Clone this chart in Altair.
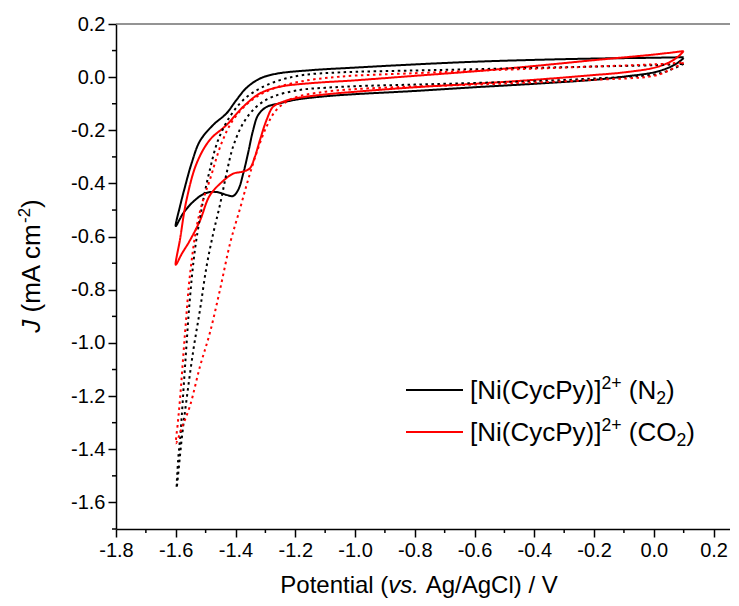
import altair as alt
import pandas as pd

# ---------------- data ----------------
series_names = ["N2", "CO2", "N2 dotted", "CO2 dotted"]
series_colors = ["#000000", "#ff0000", "#000000", "#ff0000"]

n2_E = [0.10, 0.08, 0.05, 0.00, -0.10, -0.20, -0.40, -0.60, -0.80, -1.00, -1.10, -1.20, -1.25,
        -1.296, -1.324, -1.341, -1.358, -1.374, -1.391, -1.408, -1.430, -1.464, -1.502, -1.541,
        -1.575, -1.600,
        -1.586, -1.569, -1.547, -1.519, -1.475, -1.430, -1.397, -1.363, -1.318, -1.263, -1.150,
        -1.000, -0.800, -0.600, -0.400, -0.200, 0.000, 0.100]
n2_J = [0.072, 0.054, 0.036, 0.018, 0.002, -0.010, -0.025, -0.038, -0.052, -0.064, -0.072, -0.085,
        -0.098, -0.112, -0.142, -0.199, -0.286, -0.362, -0.424, -0.447, -0.443, -0.432, -0.437,
        -0.468, -0.512, -0.560,
        -0.487, -0.412, -0.324, -0.240, -0.180, -0.136, -0.086, -0.040, -0.005, 0.013, 0.026,
        0.036, 0.048, 0.058, 0.065, 0.070, 0.073, 0.075]

co2_E = [0.10, 0.08, 0.05, 0.00, -0.10, -0.20, -0.40, -0.60, -0.80, -1.00, -1.10, -1.20, -1.24,
         -1.274, -1.296, -1.318, -1.335, -1.352, -1.374, -1.408, -1.441, -1.486, -1.519, -1.553,
         -1.580, -1.600,
         -1.586, -1.564, -1.530, -1.486, -1.430, -1.374, -1.318, -1.251, -1.151, -1.000, -0.800,
         -0.600, -0.400, -0.200, 0.000, 0.100]
co2_J = [0.098, 0.076, 0.055, 0.035, 0.018, 0.008, -0.010, -0.025, -0.038, -0.055, -0.065, -0.080,
         -0.092, -0.111, -0.161, -0.236, -0.299, -0.343, -0.355, -0.363, -0.390, -0.445, -0.540,
         -0.615, -0.665, -0.706,
         -0.612, -0.462, -0.324, -0.236, -0.180, -0.111, -0.061, -0.036, -0.023, -0.012, 0.005,
         0.022, 0.042, 0.064, 0.085, 0.098]

n2d_E = [0.10, 0.05, 0.00, -0.20, -0.40, -0.60, -0.80, -1.00, -1.10, -1.185, -1.274, -1.330,
         -1.374, -1.408, -1.430, -1.452, -1.475, -1.497, -1.519, -1.541, -1.564, -1.580, -1.597,
         -1.592, -1.584, -1.569, -1.553, -1.536, -1.519, -1.508, -1.486, -1.458, -1.419, -1.374,
         -1.318, -1.251, -1.174, -1.050, -0.800, -0.600, -0.400, -0.200, 0.000, 0.100]
n2d_J = [0.050, 0.025, 0.010, -0.005, -0.015, -0.022, -0.028, -0.034, -0.040, -0.048, -0.073,
         -0.111, -0.173, -0.261, -0.362, -0.480, -0.590, -0.713, -0.876, -1.026, -1.214, -1.360,
         -1.546,
         -1.440, -1.339, -1.089, -0.838, -0.650, -0.530, -0.462, -0.349, -0.236, -0.149, -0.086,
         -0.042, -0.011, 0.008, 0.018, 0.025, 0.030, 0.035, 0.040, 0.045, 0.050]

co2d_E = [0.10, 0.05, 0.00, -0.20, -0.40, -0.60, -0.80, -1.00, -1.10, -1.207, -1.263, -1.296,
          -1.330, -1.358, -1.385, -1.417, -1.452, -1.486, -1.519, -1.553, -1.580, -1.599,
          -1.593, -1.586, -1.569, -1.553, -1.530, -1.508, -1.486, -1.447, -1.408, -1.350, -1.285,
          -1.185, -1.051, -0.800, -0.600, -0.400, -0.200, 0.000, 0.100]
co2d_J = [0.055, 0.025, 0.005, -0.010, -0.020, -0.028, -0.035, -0.045, -0.055, -0.079, -0.123,
          -0.186, -0.286, -0.387, -0.495, -0.620, -0.800, -0.963, -1.089, -1.239, -1.320, -1.377,
          -1.300, -1.214, -0.963, -0.750, -0.562, -0.460, -0.387, -0.249, -0.161, -0.090, -0.048,
          -0.017, 0.002, 0.015, 0.024, 0.032, 0.040, 0.048, 0.055]

x_major = [-1.8, -1.6, -1.4, -1.2, -1.0, -0.8, -0.6, -0.4, -0.2, 0.0, 0.2]
x_minor = [-1.7, -1.5, -1.3, -1.1, -0.9, -0.7, -0.5, -0.3, -0.1, 0.1]
y_major = [-1.6, -1.4, -1.2, -1.0, -0.8, -0.6, -0.4, -0.2, 0.0, 0.2]
y_minor = [-1.7, -1.5, -1.3, -1.1, -0.9, -0.7, -0.5, -0.3, -0.1, 0.1]

legend_entries = [
    [("[Ni(CycPy)]", "n"), ("2+", "sup"), (" (N", "n"), ("2", "sub"), (")", "n")],
    [("[Ni(CycPy)]", "n"), ("2+", "sup"), (" (CO", "n"), ("2", "sub"), (")", "n")],
]
legend_colors = ["#000000", "#ff0000"]
x_title = [("Potential (", "n"), ("vs.", "i"), (" Ag/AgCl) / V", "n")]
y_title = [("J", "i"), (" (mA cm", "n"), ("-2", "sup"), (")", "n")]

# ---------------- layout ----------------
W, H = 614, 505
XMIN, XMAX = -1.8, 0.255
YMIN, YMAX = -1.7, 0.2
FONT = "Liberation Sans"

rows = []
for name, xs, ys in [("N2", n2_E, n2_J), ("CO2", co2_E, co2_J),
                     ("N2 dotted", n2d_E, n2d_J), ("CO2 dotted", co2d_E, co2d_J)]:
    for i, (e, j) in enumerate(zip(xs, ys)):
        rows.append({"series": name, "E": e, "J": j, "i": i})
df = pd.DataFrame(rows)

xscale = alt.Scale(domain=[XMIN, XMAX], nice=False, zero=False)
yscale = alt.Scale(domain=[YMIN, YMAX], nice=False, zero=False)
label_expr = "replace(format(datum.value, '.1f'), '\u2212', '-')"

axis_common = dict(title=None, tickSize=8, tickWidth=1.5, tickColor="black",
                   domainColor="black", domainWidth=1.5, labelColor="black",
                   labelFont=FONT, labelFontSize=20, labelPadding=3, grid=False,
                   labelFlush=False, labelOverlap=False, labelExpr=label_expr)
xaxis = alt.Axis(values=x_major, **axis_common)
yaxis = alt.Axis(values=y_major, **axis_common)

lines = alt.Chart(df).mark_line(interpolate="catmull-rom").encode(
    x=alt.X("E:Q", scale=xscale, axis=xaxis),
    y=alt.Y("J:Q", scale=yscale, axis=yaxis),
    color=alt.Color("series:N", scale=alt.Scale(domain=series_names, range=series_colors), legend=None),
    strokeDash=alt.StrokeDash("series:N", scale=alt.Scale(domain=series_names,
                              range=[[1, 0], [1, 0], [2.5, 3.5], [2.5, 3.5]]), legend=None),
    strokeWidth=alt.StrokeWidth("series:N", scale=alt.Scale(domain=series_names,
                                range=[2, 2, 2.5, 2.5]), legend=None),
    order="i:Q",
)

xminor = alt.Chart(pd.DataFrame({"v": x_minor})).mark_rule(color="black", strokeWidth=1.5).encode(
    x=alt.X("v:Q", scale=xscale, axis=xaxis), y=alt.value(H), y2=alt.value(H + 4))
yminor = alt.Chart(pd.DataFrame({"v": y_minor})).mark_rule(color="black", strokeWidth=1.5).encode(
    y=alt.Y("v:Q", scale=yscale, axis=yaxis), x=alt.value(0), x2=alt.value(-4))
topline = alt.Chart(pd.DataFrame({"v": [YMAX]})).mark_rule(color="#707070", strokeWidth=1.5).encode(
    y=alt.Y("v:Q", scale=yscale, axis=yaxis), x=alt.value(0), x2=alt.value(W))

CW = {" ": 278, "(": 333, ")": 333, "[": 278, "]": 278, "-": 333, ".": 278, "/": 278,
      "+": 584, "A": 667, "C": 722, "N": 722, "O": 778, "P": 667, "V": 667, "J": 500, "a": 556,
      "c": 500, "e": 556, "g": 556, "i": 222, "l": 222, "m": 833, "n": 556, "o": 556, "s": 500,
      "t": 278, "v": 500, "y": 500}


def tw(s, size):
    return sum(CW.get(c, 556) for c in s) * size / 1000.0


def rich(segments, x0, y0, size, color="black", vertical=False, center=False, ratio=0.65):
    layers = []
    pieces = []
    u = 0.0
    for text, kind in segments:
        s = size * ratio if kind in ("sup", "sub") else size
        v = -0.40 * size if kind == "sup" else (0.18 * size if kind == "sub" else 0.0)
        body = text.lstrip(" ")
        lead = tw(text[: len(text) - len(body)], s)  # leading blanks become an offset
        pieces.append((body, kind, s, u + lead, v))
        u += tw(text, s)
    total = u
    off = -total / 2 if center else 0.0
    for text, kind, s, uu, v in pieces:
        if vertical:
            px, py, ang = x0 + v, y0 - (uu + off), 270
        else:
            px, py, ang = x0 + uu + off, y0 + v, 0
        layers.append(
            alt.Chart(pd.DataFrame({"t": [text]})).mark_text(
                align="left", baseline="alphabetic", font=FONT, fontSize=s, color=color,
                fontStyle="italic" if kind == "i" else "normal", angle=ang,
            ).encode(x=alt.value(px), y=alt.value(py), text="t:N")
        )
    return layers


texts = []
texts += rich(x_title, 303, 569, 24, center=True)
texts += rich(y_title, -76, 242, 26, vertical=True, center=True)

legend_layers = []
for k, (entry, col) in enumerate(zip(legend_entries, legend_colors)):
    ly = 366 + 42 * k
    legend_layers.append(
        alt.Chart(pd.DataFrame({"k": [k]})).mark_rule(color=col, strokeWidth=2).encode(
            x=alt.value(290), x2=alt.value(347), y=alt.value(ly)))
    texts += rich(entry, 354, ly + 9, 26, ratio=0.68)

chart = alt.layer(lines, xminor, yminor, topline, *legend_layers, *texts).properties(
    width=W, height=H,
    autosize=alt.AutoSizeParams(type="none"),
    padding={"left": 108, "top": 16, "right": 0, "bottom": 70},
).configure_view(stroke=None)

chart.save("out.html", embed_options={"renderer": "svg", "actions": False})
